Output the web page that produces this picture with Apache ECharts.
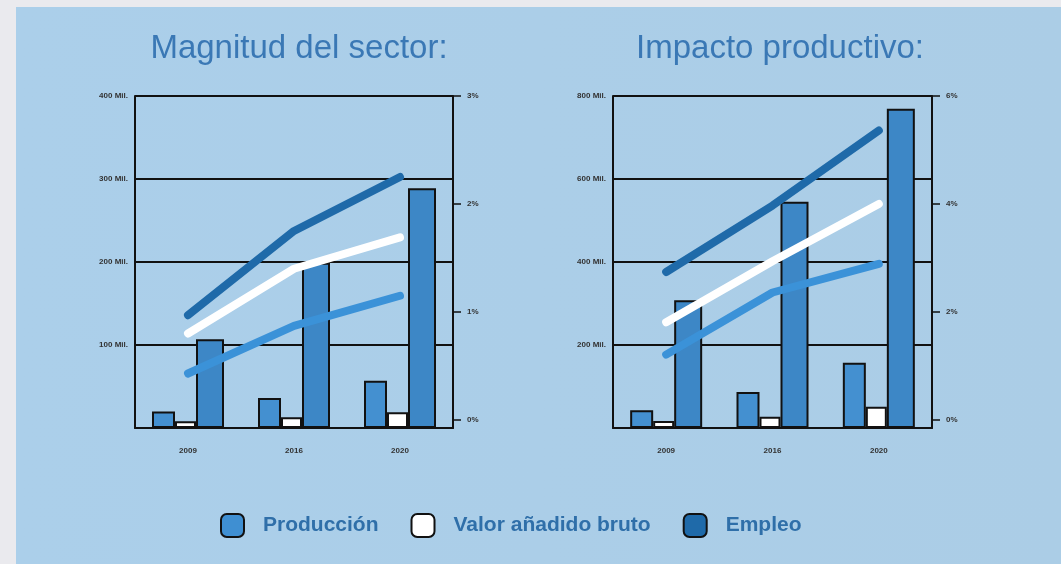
<!DOCTYPE html>
<html>
<head>
<meta charset="utf-8">
<script src="https://cdn.jsdelivr.net/npm/echarts@6/dist/echarts.min.js"></script>
<style>
html,body{margin:0;padding:0;background:#eaeaee;}
#chart{width:1061px;height:564px;}
</style>
</head>
<body>
<div id="chart"></div>
<script>
// ---- data ----
const categories = ['2009', '2016', '2020'];
const seriesNames = ['Producción', 'Valor añadido bruto', 'Empleo'];
const titles = ['Magnitud del sector:', 'Impacto productivo:'];

// Magnitud del sector (Mil. / %)
const magProduccion = [20, 36, 57];
const magVAB = [8, 13, 19];
const magEmpleo = [107, 199, 289];
const magProduccionPct = [0.43, 0.87, 1.15];
const magVABPct = [0.80, 1.40, 1.69];
const magEmpleoPct = [0.97, 1.75, 2.25];

// Impacto productivo (Mil. / %)
const impProduccion = [43, 87, 157];
const impVAB = [17, 27, 51];
const impEmpleo = [308, 545, 769];
const impProduccionPct = [1.21, 2.36, 2.89];
const impVABPct = [1.81, 2.94, 4.00];
const impEmpleoPct = [2.74, 3.97, 5.36];

// tick labels
const magMilTicks = [100, 200, 300, 400];
const magPctTicks = [0, 1, 2, 3];
const impMilTicks = [200, 400, 600, 800];
const impPctTicks = [0, 2, 4, 6];

// ---- styling ----
const barColors = ['#4490d0', '#ffffff', '#3d87c6'];
const barWidths = [23, 21, 28];
const lineColors = ['#3b92d8', '#ffffff', '#1f6aa9'];
const legendColors = ['#3f8fd2', '#ffffff', '#1f6aa9'];
const titleBlue = '#3a78b5';
const legendBlue = '#2f6fa9';
const axisFont = {fontSize: 8, fontWeight: 'bold', color: '#333', fontFamily: 'Liberation Sans, Arial'};

const grids = [
  {left: 135, width: 318, top: 96, height: 332},
  {left: 613, width: 319, top: 96, height: 332}
];

function xAxisFor(i) {
  return {
    type: 'category', gridIndex: i, data: categories,
    axisLine: {show: true, lineStyle: {color: '#111', width: 2}},
    axisTick: {show: false},
    axisLabel: Object.assign({margin: 19}, axisFont),
    splitLine: {show: false}
  };
}
function milAxis(i, ticks) {
  const max = ticks[ticks.length - 1];
  const step = ticks[1] - ticks[0];
  return {
    type: 'value', gridIndex: i, min: 0, max: max, interval: step, position: 'left',
    axisLine: {show: true, lineStyle: {color: '#111', width: 2}},
    axisTick: {show: false},
    axisLabel: Object.assign({margin: 7, formatter: v => v === 0 ? '' : v + ' Mil.'}, axisFont),
    splitLine: {show: true, lineStyle: {color: '#111', width: 2}}
  };
}
function pctAxis(i, ticks) {
  const max = ticks[ticks.length - 1];
  return {
    type: 'value', gridIndex: i, min: -max * 0.025, max: max, position: 'right',
    axisLine: {show: true, lineStyle: {color: '#111', width: 2}},
    axisTick: {show: true, inside: false, length: 8, customValues: ticks, lineStyle: {color: '#111', width: 1.5}},
    axisLabel: Object.assign({margin: 14, customValues: ticks, formatter: v => Math.round(v) + '%'}, axisFont),
    splitLine: {show: false}
  };
}

function barSeries(k, data, xi, yi) {
  return {
    name: seriesNames[k], type: 'bar', xAxisIndex: xi, yAxisIndex: yi, data: data,
    barWidth: barWidths[k], barGap: '0%',
    itemStyle: {color: barColors[k], borderColor: '#111', borderWidth: 2},
    z: 2
  };
}
function lineSeries(k, data, xi, yi) {
  return {
    name: seriesNames[k], type: 'line', xAxisIndex: xi, yAxisIndex: yi, data: data,
    symbol: 'none', smooth: false,
    lineStyle: {color: lineColors[k], width: 8, cap: 'round', join: 'round'},
    itemStyle: {color: lineColors[k]},
    z: 5
  };
}

const titleStyle = {fontFamily: 'Liberation Sans, Arial, sans-serif', fontWeight: 'normal', fontSize: 33, color: titleBlue};

const chart = echarts.init(document.getElementById('chart'), null, {renderer: 'canvas'});
chart.setOption({
  animation: false,
  backgroundColor: '#eaeaee',
  graphic: [{
    type: 'rect', left: 16, top: 7, z: -10,
    shape: {width: 1045, height: 557},
    style: {fill: new echarts.graphic.LinearGradient(0, 0, 1, 0, [
      {offset: 0, color: '#abcfea'}, {offset: 1, color: '#abcde6'}
    ])}
  }],
  title: [
    {text: titles[0], left: 294, top: 27, textAlign: 'center', textStyle: titleStyle},
    {text: titles[1], left: 775, top: 27, textAlign: 'center', textStyle: titleStyle}
  ],
  legend: {
    left: 215, top: 508, itemWidth: 23, itemHeight: 23, itemGap: 32,
    icon: 'roundRect',
    selectedMode: false,
    textStyle: {fontFamily: 'Liberation Sans, Arial', fontWeight: 'bold', fontSize: 21, color: legendBlue, padding: [0, 0, 0, 14]},
    data: seriesNames.map((n, k) => ({
      name: n, icon: 'roundRect',
      itemStyle: {color: legendColors[k], borderColor: '#111', borderWidth: 2}
    }))
  },
  grid: grids,
  xAxis: [xAxisFor(0), xAxisFor(1)],
  yAxis: [milAxis(0, magMilTicks), pctAxis(0, magPctTicks), milAxis(1, impMilTicks), pctAxis(1, impPctTicks)],
  series: [
    barSeries(0, magProduccion, 0, 0),
    barSeries(1, magVAB, 0, 0),
    barSeries(2, magEmpleo, 0, 0),
    lineSeries(0, magProduccionPct, 0, 1),
    lineSeries(1, magVABPct, 0, 1),
    lineSeries(2, magEmpleoPct, 0, 1),
    barSeries(0, impProduccion, 1, 2),
    barSeries(1, impVAB, 1, 2),
    barSeries(2, impEmpleo, 1, 2),
    lineSeries(0, impProduccionPct, 1, 3),
    lineSeries(1, impVABPct, 1, 3),
    lineSeries(2, impEmpleoPct, 1, 3)
  ]
});
</script>
</body>
</html>
